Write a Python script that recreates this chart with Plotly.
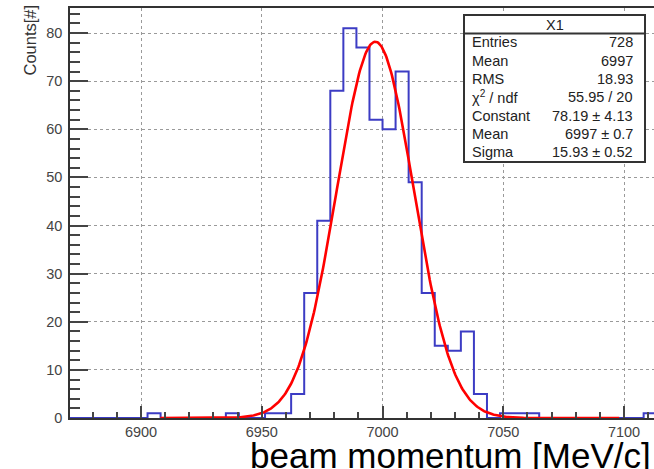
import numpy as np
import plotly.graph_objects as go

# Histogram binning: 74 bins over [6800, 7200] MeV/c
hist_min = 6800.0
hist_max = 7200.0
n_bins = 74

# Filled bins (bin index -> entries)
bin_index = [19, 25, 28, 29, 30, 31, 32, 33, 34, 35, 36, 37, 38, 39, 40, 41, 42, 43, 44, 46, 47, 48, 57]
bin_count = [1, 1, 1, 1, 5, 26, 41, 68, 81, 77, 62, 60, 72, 49, 26, 15, 14, 18, 5, 1, 1, 1, 1]

# Gaussian fit result
fit_constant = 78.19
fit_mean = 6997.0
fit_sigma = 15.93
fit_lo = 6908.0
fit_hi = 7098.0

# Statistics box
stat_title = "X1"
stat_labels = ["Entries", "Mean", "RMS", "χ<sup>2</sup> / ndf", "Constant", "Mean", "Sigma"]
stat_values = ["728", "6997", "18.93", "55.95 / 20", "78.19 ± 4.13", "6997 ± 0.7", "15.93 ± 0.52"]

x_title = "beam momentum [MeV/c]"
y_title = "Counts[#]"

# ---- figure geometry (pixels) ----
W, H = 654, 469
ML, MR, MT, MB = 70, 0, 8, 51
PW, PH = W - ML - MR, H - MT - MB


def px(xp):
    return (xp - ML) / PW


def py(yp):
    return (H - MB - yp) / PH


edges = np.linspace(hist_min, hist_max, n_bins + 1)
counts = np.zeros(n_bins)
counts[bin_index] = bin_count
step_x = np.append(edges[:-1], edges[-1])
step_y = np.append(counts, counts[-1])

gx = np.linspace(fit_lo, fit_hi, 500)
gy = fit_constant * np.exp(-0.5 * ((gx - fit_mean) / fit_sigma) ** 2)

fig = go.Figure()
fig.add_trace(go.Scatter(
    x=step_x, y=step_y, mode="lines", line=dict(shape="hv", color="#3c3cc4", width=2),
    hoverinfo="skip", showlegend=False))
fig.add_trace(go.Scatter(
    x=gx, y=gy, mode="lines", line=dict(color="#ff0000", width=2.6),
    hoverinfo="skip", showlegend=False))

font_main = "Liberation Sans, Arial, sans-serif"

fig.update_layout(
    width=W, height=H,
    margin=dict(l=ML, r=MR, t=MT, b=MB, autoexpand=False),
    paper_bgcolor="white", plot_bgcolor="white",
    font=dict(family=font_main, color="#333"),
    showlegend=False,
)

fig.update_xaxes(
    range=[6870.6, 7112.4], tick0=6900, dtick=50,
    showgrid=True, gridcolor="#9a9a9a", griddash="dot", gridwidth=1,
    ticks="inside", ticklen=12, tickwidth=1.5, tickcolor="#444",
    minor=dict(dtick=10, tick0=6900, ticks="inside", ticklen=6, tickwidth=1.5,
               tickcolor="#444", showgrid=False),
    showline=True, linecolor="#333", linewidth=1.6, mirror=True,
    zeroline=False, automargin=False, ticklabelstandoff=0,
    tickfont=dict(family=font_main, size=14.5, color="#444"),
)
fig.update_yaxes(
    range=[0, 85.2], tick0=0, dtick=10,
    showgrid=True, gridcolor="#9a9a9a", griddash="dot", gridwidth=1,
    ticks="inside", ticklen=18, tickwidth=1.5, tickcolor="#444",
    minor=dict(dtick=2, tick0=0, ticks="inside", ticklen=10, tickwidth=1.5,
               tickcolor="#444", showgrid=False),
    showline=True, linecolor="#333", linewidth=1.6,
    zeroline=False, automargin=False, ticklabelstandoff=3,
    tickfont=dict(family=font_main, size=14.5, color="#444"),
)

# Statistics box
bx0, bx1, by0, by1 = 464, 645, 15, 162
fig.add_shape(type="rect", xref="paper", yref="paper",
              x0=px(bx0), x1=px(bx1), y0=py(by1), y1=py(by0),
              line=dict(color="#333", width=2), fillcolor="white", layer="above")
fig.add_shape(type="line", xref="paper", yref="paper",
              x0=px(bx0), x1=px(bx1), y0=py(33.5), y1=py(33.5),
              line=dict(color="#333", width=2), layer="above")
fig.add_annotation(text=stat_title, xref="paper", yref="paper",
                   x=px((bx0 + bx1) / 2), y=py(24.5), xanchor="center", yanchor="middle",
                   showarrow=False, font=dict(family=font_main, size=14.5, color="#222"))
row_y = [42.3, 60.7, 79.0, 97.5, 116.0, 134.2, 152.3]
for lab, val, ry in zip(stat_labels, stat_values, row_y):
    fig.add_annotation(text=lab, xref="paper", yref="paper", x=px(470), y=py(ry),
                       xanchor="left", yanchor="middle", showarrow=False,
                       font=dict(family=font_main, size=14.5, color="#222"))
    fig.add_annotation(text=val, xref="paper", yref="paper", x=px(635), y=py(ry),
                       xanchor="right", yanchor="middle", showarrow=False,
                       font=dict(family=font_main, size=14.5, color="#222"))

# Axis titles
fig.add_annotation(text=x_title, xref="paper", yref="paper", x=px(653), y=py(455),
                   xanchor="right", yanchor="middle", showarrow=False,
                   font=dict(family=font_main, size=35, color="#000"))
fig.add_annotation(text=y_title, xref="paper", yref="paper", x=px(30), y=py(3),
                   xanchor="center", yanchor="top", textangle=-90, showarrow=False,
                   font=dict(family=font_main, size=16.5, color="#333"))

fig.write_html("out.html")
